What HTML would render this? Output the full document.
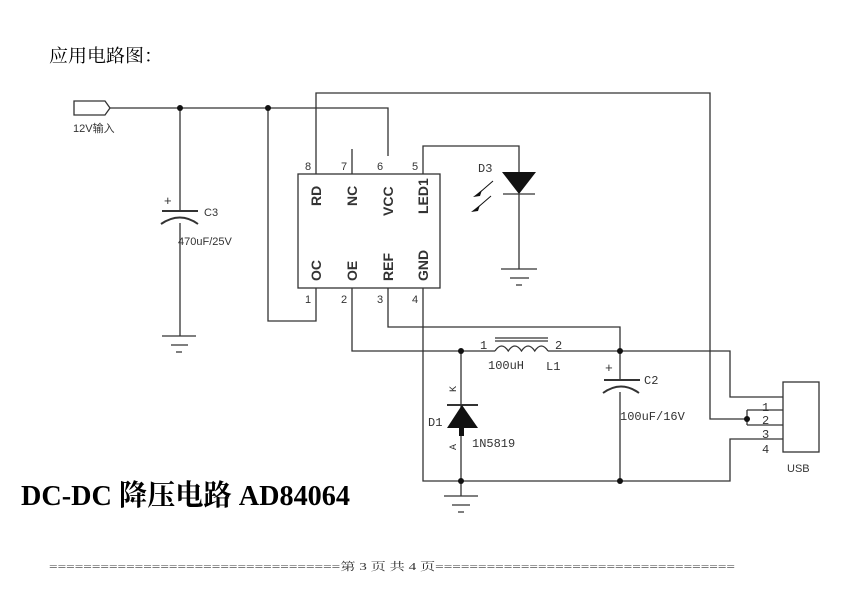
<!DOCTYPE html>
<html><head><meta charset="utf-8"><style>
html,body{margin:0;padding:0;background:#fff;width:842px;height:607px;overflow:hidden}
svg{display:block}
</style></head><body>
<svg width="842" height="607" viewBox="0 0 842 607" xmlns="http://www.w3.org/2000/svg">
<text x="49" y="62" font-family="Liberation Serif, Noto Serif CJK SC, serif" font-size="18" textLength="114" lengthAdjust="spacingAndGlyphs">应用电路图：</text>
<g stroke="#333" stroke-width="1.3" fill="none">
<path d="M74 101 H105 L110 108 L105 115 H74 Z"/>
<path d="M110 108 H388 V156"/>
<path d="M180 108 V211"/>
<path d="M180 223 V336"/>
<path d="M162 336 H196 M171 345 H188 M176 352 H182"/>
<path d="M162 211 H198" stroke-width="2"/>
<path d="M161 224 Q180 211 198 224" stroke-width="2"/>
<rect x="298" y="174" width="142" height="114"/>
<path d="M316 174 V93 H710 V419 H747"/>
<path d="M352 174 V149"/>
<path d="M423 174 V146 H519 V172"/>
<path d="M519 194 V269 M501 269 H537 M510 278 H529 M516 285 H522"/>
<path d="M503 194 H535"/>
<path d="M268 108 V321 H316 V288"/>
<path d="M352 288 V351 H495"/>
<path d="M388 288 V327 H620 V380"/>
<path d="M423 288 V481 H730 V439 H783"/>
<path d="M548 351 H730 V397 H783"/>
<path d="M620 392 V481"/>
<path d="M747 410 H783 M747 425 H783 M747 410 V425"/>
<rect x="783" y="382" width="36" height="70"/>
<path d="M495 351 q6.6 -10 13.25 0 q6.6 -10 13.25 0 q6.6 -10 13.25 0 q6.6 -10 13.25 0"/>
<path d="M495 338 H548 M495 341 H548"/>
<path d="M604 380 H640" stroke-width="2"/>
<path d="M603 393 Q621 380 639 393" stroke-width="2"/>
<path d="M461 351 V481 M461 481 V496 M444 496 H478 M452 505 H470 M458 512 H464"/>
<path d="M447 405 H478" stroke-width="2"/>
</g>
<g fill="#111">
<polygon points="502,172 536,172 519,194"/>
<polygon points="447,428 478,428 462,405"/>
<rect x="459" y="428" width="5" height="8"/>
<circle cx="180" cy="108" r="3"/><circle cx="268" cy="108" r="3"/>
<circle cx="461" cy="351" r="3"/><circle cx="620" cy="351" r="3"/>
<circle cx="461" cy="481" r="3"/><circle cx="620" cy="481" r="3"/>
<circle cx="747" cy="419" r="3"/>
<polygon points="473,197 482,190 480,196"/><line x1="478" y1="194" x2="493" y2="181" stroke="#111"/>
<polygon points="471,212 480,205 478,211"/><line x1="476" y1="209" x2="491" y2="196" stroke="#111"/>
</g>
<g font-family="Liberation Sans, Noto Sans CJK SC, sans-serif" font-size="11" fill="#333">
<text x="73" y="132">12V输入</text>
<text x="204" y="216">C3</text>
<text x="178" y="245">470uF/25V</text>
<text x="164" y="205" font-size="13">+</text>
<text x="305" y="170">8</text><text x="341" y="170">7</text><text x="377" y="170">6</text><text x="412" y="170">5</text>
<text x="305" y="303">1</text><text x="341" y="303">2</text><text x="377" y="303">3</text><text x="412" y="303">4</text>
<text x="787" y="472">USB</text>
</g>
<g font-family="Liberation Sans Narrow, Liberation Sans, sans-serif" font-size="14" font-weight="bold" fill="#333">
<text transform="translate(321,206) rotate(-90)">RD</text>
<text transform="translate(357,206) rotate(-90)">NC</text>
<text transform="translate(393,216) rotate(-90)">VCC</text>
<text transform="translate(428,214) rotate(-90)">LED1</text>
<text transform="translate(321,281) rotate(-90)">OC</text>
<text transform="translate(357,281) rotate(-90)">OE</text>
<text transform="translate(393,281) rotate(-90)">REF</text>
<text transform="translate(428,281) rotate(-90)">GND</text>
</g>
<g font-family="Liberation Mono, monospace" font-size="12" fill="#333">
<text x="478" y="172">D3</text>
<text x="480" y="349">1</text><text x="555" y="349">2</text>
<text x="488" y="369">100uH</text><text x="546" y="370">L1</text>
<text x="644" y="384">C2</text>
<text x="620" y="420">100uF/16V</text>
<text x="605" y="372" font-size="13">+</text>
<text x="428" y="426">D1</text>
<text x="472" y="447">1N5819</text>
<text transform="translate(456,392) rotate(-90)" font-size="10">K</text>
<text transform="translate(456,450) rotate(-90)" font-size="10">A</text>
<text x="762" y="411">1</text><text x="762" y="424">2</text><text x="762" y="438">3</text><text x="762" y="453">4</text>
</g>
<text x="21" y="505" font-family="Liberation Serif, Noto Serif CJK SC, serif" font-size="29" font-weight="bold" textLength="329" lengthAdjust="spacingAndGlyphs">DC-DC 降压电路 AD84064</text>
<text x="49" y="570" font-family="Liberation Serif, Noto Serif CJK SC, serif" font-size="11" fill="#333" textLength="686" lengthAdjust="spacingAndGlyphs">==================================第 3 页 共 4 页===================================</text>
</svg>
</body></html>
